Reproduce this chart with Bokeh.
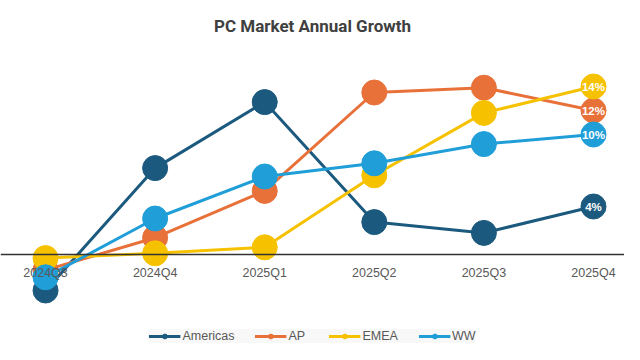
from bokeh.plotting import figure
from bokeh.models import Range1d, Legend, LegendItem, ColumnDataSource, Span, Label
from bokeh.embed import file_html
from bokeh.resources import INLINE

title_text = "PC Market Annual Growth"
quarters = ["2024Q3", "2024Q4", "2025Q1", "2025Q2", "2025Q3", "2025Q4"]
series_names = ["Americas", "AP", "EMEA", "WW"]
americas = [-3.0, 7.2, 12.7, 2.7, 1.8, 4.0]
ap = [-1.3, 1.4, 5.3, 13.5, 13.9, 12.0]
emea = [-0.3, 0.1, 0.6, 6.6, 11.8, 14.0]
ww = [-1.9, 3.0, 6.5, 7.6, 9.2, 10.0]
colors = ["#1b5a7e", "#e8713a", "#f6c200", "#1f9ed8"]

xs = list(range(len(quarters)))

p = figure(width=624, height=344, output_backend="svg", toolbar_location=None,
           x_range=Range1d(-0.411, 5.283), y_range=Range1d(-7.5, 21.167),
           min_border_left=0, min_border_right=0, min_border_top=0, min_border_bottom=0)
p.outline_line_color = None
p.xgrid.visible = False
p.ygrid.visible = False
p.xaxis.visible = False
p.yaxis.visible = False

p.add_layout(Label(x=312, y=319, x_units="screen", y_units="screen", text=title_text,
                   text_align="center", text_baseline="middle", text_color="#404040",
                   text_font="Roboto", text_font_style="bold", text_font_size="17px"))

p.add_layout(Span(location=0, dimension="width", line_color="#333333", line_width=1.5))

for i, q in enumerate(quarters):
    p.add_layout(Label(x=xs[i], y=-1.5, text=q, text_align="center",
                       text_baseline="middle", text_color="#595959",
                       text_font="Liberation Sans", text_font_size="12.5px"))

items = []
all_vals = [americas, ap, emea, ww]
for name, vals, c in zip(series_names, all_vals, colors):
    src = ColumnDataSource(dict(x=xs, y=vals))
    ln = p.line("x", "y", source=src, line_color=c, line_width=3)
    sc = p.scatter("x", "y", source=src, size=25, fill_color=c, line_color=c)
    items.append(LegendItem(label=name, renderers=[ln, sc]))

last = len(quarters) - 1
for vals in all_vals:
    p.add_layout(Label(x=xs[last], y=vals[last], text=f"{round(vals[last])}%",
                       text_align="center", text_baseline="middle", text_color="white",
                       text_font="Liberation Sans", text_font_style="bold",
                       text_font_size="11.5px"))

legend = Legend(items=items, orientation="horizontal", location="bottom",
                glyph_width=32, glyph_height=12, label_standoff=2, spacing=20,
                label_text_font="Liberation Sans", label_text_font_size="12.5px",
                label_text_color="#595959", background_fill_color="#f8f8f8",
                border_line_color=None, padding=6, margin=1)
p.add_layout(legend)

open("out.html", "w").write(file_html(p, INLINE))
